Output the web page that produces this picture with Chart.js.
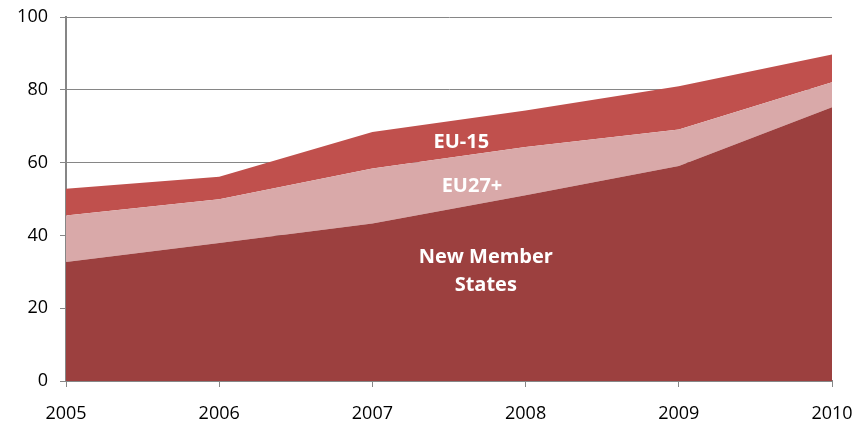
<!DOCTYPE html>
<html>
<head>
<meta charset="utf-8">
<script src="https://cdn.jsdelivr.net/npm/chart.js@4"></script>
<style>
  html, body { margin: 0; padding: 0; background: #fff; }
  #wrap { width: 857px; height: 425px; }
</style>
</head>
<body>
<div id="wrap"><canvas id="chart" width="857" height="425"></canvas></div>
<script>
// years on the x axis
const years = ["2005", "2006", "2007", "2008", "2009", "2010"];
// stacked layers, bottom to top
const newMember = [32.7, 37.9, 43.3, 51.0, 59.1, 75.2];
const eu27plus = [12.8, 12.0, 15.1, 13.3, 10.0, 6.9];
const eu15 = [7.3, 6.2, 10.0, 10.0, 11.9, 7.6];
const yTicks = [0, 20, 40, 60, 80, 100];

// in-chart labels: [text lines, x index, y value]
const areaLabels = [
  [["EU-15"], 2.58, 65.6],
  [["EU27+"], 2.65, 53.5],
  [["New Member", "States"], 2.74, 34.0]
];

const labelPlugin = {
  id: 'areaLabels',
  afterDatasetsDraw(chart) {
    const ctx = chart.ctx;
    const xs = chart.scales.x, ys = chart.scales.y;
    ctx.save();
    ctx.fillStyle = '#ffffff';
    ctx.font = 'bold 20px "Open Sans"';
    ctx.textAlign = 'center';
    ctx.textBaseline = 'middle';
    areaLabels.forEach(([lines, xi, yv]) => {
      const x = xs.left + (xs.right - xs.left) * xi / (years.length - 1);
      let y = ys.getPixelForValue(yv);
      lines.forEach((t, i) => ctx.fillText(t, x, y + i * 28));
    });
    ctx.restore();
  }
};

new Chart(document.getElementById('chart'), {
  type: 'line',
  data: {
    labels: years,
    datasets: [
      { label: 'New Member States', data: newMember, backgroundColor: '#9C403F', fill: 'origin' },
      { label: 'EU27+', data: eu27plus, backgroundColor: '#D9A9A9', fill: '-1' },
      { label: 'EU-15', data: eu15, backgroundColor: '#C0504D', fill: '-1' }
    ].map(d => Object.assign(d, { borderWidth: 0, pointRadius: 0, tension: 0 }))
  },
  options: {
    responsive: false,
    animation: false,
    layout: { padding: { top: 17, right: 25, left: 0, bottom: 0 } },
    plugins: { legend: { display: false }, tooltip: { enabled: false } },
    scales: {
      x: {
        offset: false,
        stacked: true,
        grid: { drawOnChartArea: false, drawTicks: true, tickLength: 6, color: '#868686' },
        border: { color: '#868686', width: 2 },
        ticks: { color: '#000', font: { family: 'Open Sans', size: 18 }, padding: 16, maxRotation: 0 },
        afterFit: (s) => { s.height = 44; s.paddingLeft = 0; s.paddingRight = 0; }
      },
      y: {
        stacked: true,
        min: 0, max: 100,
        afterBuildTicks: (s) => { s.ticks = yTicks.map(v => ({ value: v })); },
        grid: { color: '#868686', tickLength: 6 },
        border: { color: '#868686', width: 2 },
        ticks: { color: '#000', font: { family: 'Open Sans', size: 18 }, padding: 12 },
        afterFit: (s) => { s.width = 66; s.paddingTop = 0; s.paddingBottom = 0; }
      }
    }
  },
  plugins: [labelPlugin]
});
</script>
</body>
</html>
